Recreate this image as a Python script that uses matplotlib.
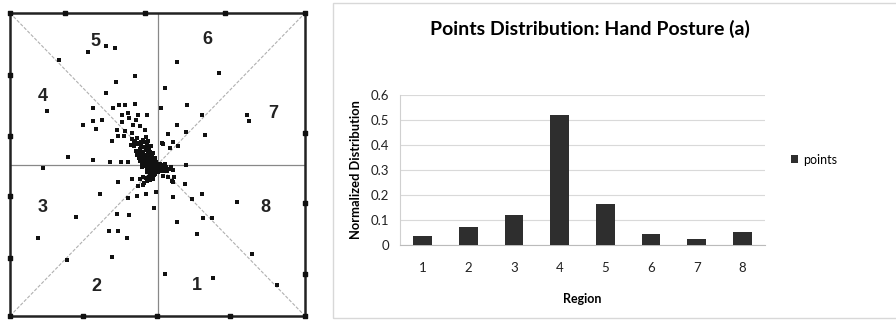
import numpy as np
import matplotlib.pyplot as plt
from matplotlib.patches import Rectangle

plt.rcParams['font.family'] = ['Lato', 'DejaVu Sans']

###############################################################################
# Data: bar chart
regions = ['1', '2', '3', '4', '5', '6', '7', '8']
points_dist = [0.036, 0.071, 0.12, 0.52, 0.164, 0.043, 0.023, 0.052]

###############################################################################
# Data: touch points in the square (0..100 units)
pts_x = [26.6, 32.5, 35.6, 16.7, 42.4, 35.9, 32.5, 28.0, 35.0, 37.1, 39.0, 42.4,
         28.0, 31.1, 24.6, 29.2, 40.1, 37.9, 43.5, 46.3, 41.8, 44.1, 36.2, 39.0,
         36.7, 38.6, 41.2, 45.8, 34.5,
         12.4, 19.8, 28.0, 33.9, 37.5, 40.1,
         11.3, 22.4, 9.6, 30.5, 19.2,
         36.7, 40.1, 43.2, 46.1, 36.4, 40.5, 33.7, 36.7, 39.8, 34.5, 48.8,
         49.5, 52.5, 68.9, 56.5, 63.5, 59.3, 55.1, 61.6, 65.3, 68.4,
         65.0, 76.8, 81.9, 90.4, 55.4,
         80.2, 81.1, 66.1, 59.7, 65.0, 56.5, 53.7, 55.1, 51.8,
         56.5, 70.8, 52.5, 51.2, 60.1, 59.7,
         51.4, 54.2, 57.1, 41.2, 43.5, 38.0, 40.3, 42.6,
         # dense cluster near the centre
         41.5, 42.5, 43.0, 41.0, 42.0, 43.5, 44.5, 45.0, 46.0, 44.0, 45.2, 46.3,
         42.8, 43.9, 45.0, 46.1, 47.0, 44.5, 45.6, 46.7, 47.6, 43.6, 45.0, 46.2,
         47.3, 48.2, 44.8, 46.0, 47.0, 48.0, 49.0, 45.5, 46.6, 47.7, 48.7, 49.6,
         46.4, 47.5, 48.5, 49.5, 50.5, 47.8, 48.8, 49.8, 50.8, 51.8, 52.8, 53.8,
         54.6, 52.2, 53.3, 55.3, 50.3, 51.3,
         45.0, 46.0, 47.0, 48.0, 46.5, 47.6, 45.5, 48.6, 49.2, 44.2, 45.2,
         55.5, 52.0, 53.5, 54.8,
         42.2, 43.3, 44.4, 45.6, 46.8, 47.9, 44.1, 45.3, 46.4, 47.4, 48.5, 49.3,
         43.2, 44.0, 45.8, 47.1, 48.3, 50.9, 51.9, 52.6, 44.6, 46.3, 47.3, 48.9]
pts_y = [87.0, 89.0, 88.5, 84.4, 79.1, 77.1, 73.6, 68.7, 68.7, 69.5, 69.5, 70.1,
         64.3, 64.8, 63.2, 61.8, 67.0, 66.5, 66.2, 66.5, 63.2, 62.6, 61.5, 61.0,
         59.3, 59.3, 60.4, 61.5, 57.7,
         67.6, 52.5, 51.4, 50.8, 50.8, 50.8,
         48.9, 32.7, 25.8, 40.3, 18.5,
         44.2, 39.0, 39.6, 40.1, 33.8, 33.2, 28.0, 28.0, 25.8, 19.6, 35.7,
         40.9, 14.0, 12.6, 31.0, 26.9, 43.4, 39.3, 38.7, 32.4, 32.2,
         40.1, 37.7, 20.3, 10.1, 44.2,
         66.2, 64.3, 59.9, 60.7, 66.2, 63.2, 60.2, 57.4, 56.9,
         83.7, 80.2, 75.3, 68.7, 69.6, 49.7,
         57.1, 55.4, 56.0, 45.1, 42.9, 64.0, 65.2, 64.6,
         58.5, 57.8, 58.9, 56.5, 56.0, 56.8, 57.5, 58.2, 59.0, 55.2, 55.8, 56.5,
         54.5, 53.8, 54.2, 54.9, 55.5, 52.8, 53.2, 53.6, 54.2, 52.0, 51.6, 52.0,
         52.5, 53.0, 50.5, 50.8, 51.2, 51.5, 52.0, 49.6, 49.8, 50.2, 50.5, 50.9,
         48.8, 49.0, 49.3, 49.5, 49.8, 48.0, 48.2, 48.5, 48.7, 49.0, 49.3, 48.6,
         49.2, 48.0, 47.8, 48.2, 47.5, 47.7,
         46.0, 45.4, 45.8, 46.3, 44.6, 44.8, 44.0, 45.2, 47.0, 45.3, 43.2,
         45.8, 46.3, 46.0, 44.5,
         57.2, 57.0, 56.2, 57.3, 57.8, 56.1, 54.0, 53.0, 55.3, 53.0, 53.9, 51.3,
         53.2, 51.0, 51.9, 50.4, 51.8, 50.2, 50.0, 50.2, 49.2, 47.6, 47.2, 46.5]

# dots sitting on the frame of the square
frame_x = [0, 18.6, 45.8, 72.9, 100, 0, 0, 0, 0, 0, 100, 100, 100, 24.9, 49.7, 74.6, 100]
frame_y = [100, 100, 100, 100, 100, 79.7, 59.3, 39.6, 19.2, 0, 60.4, 37.4, 13.8, 0, 0, 0, 0]

# region number labels
label_txt = ['1', '2', '3', '4', '5', '6', '7', '8']
label_x = [63.5, 29.2, 11.1, 11.1, 28.8, 66.9, 89.3, 86.7]
label_y = [10.1, 9.9, 35.7, 72.3, 90.7, 91.2, 66.8, 35.7]

###############################################################################
fig = plt.figure(figsize=(8.96, 3.21), dpi=100)

# Left: the square with regions
ax1 = fig.add_axes([10 / 896, 5 / 321, 295 / 896, 303 / 321])
ax1.set_xlim(0, 100)
ax1.set_ylim(0, 100)
ax1.axis('off')
ax1.plot([0, 100], [0, 100], color='#b0b0b0', lw=0.8, ls=(0, (3, 1.5)))
ax1.plot([0, 100], [100, 0], color='#b0b0b0', lw=0.8, ls=(0, (3, 1.5)))
ax1.plot([50, 50], [0, 100], color='#888888', lw=0.9)
ax1.plot([0, 100], [50, 50], color='#888888', lw=0.9)
ax1.plot([0, 100, 100, 0, 0], [0, 0, 100, 100, 0], color='#222222', lw=1.8,
         clip_on=False)
ax1.scatter(frame_x, frame_y, marker='s', s=12, color='#111111', clip_on=False,
            zorder=4)
ax1.scatter(pts_x, pts_y, marker='s', s=11, color='#111111', linewidths=0,
            zorder=3)
for t, x, y in zip(label_txt, label_x, label_y):
    ax1.text(x, y, t, fontsize=13, fontweight='bold', ha='center', va='center',
             color='#222222', family=['Liberation Sans'])

# Right: chart area frame
fig.patches.append(Rectangle((333 / 896, 3 / 321), 570 / 896, 315 / 321,
                             transform=fig.transFigure, fill=False,
                             edgecolor='#d8d8d8', lw=1.0))

ax2 = fig.add_axes([400 / 896, 76 / 321, 365 / 896, 150 / 321])
xpos = np.arange(len(regions))
ax2.bar(xpos, points_dist, width=0.41, color='#2e2e2e', label='points', zorder=3)
ax2.set_xlim(-0.5, len(regions) - 0.5)
ax2.set_ylim(0, 0.6)
ax2.set_yticks([0, 0.1, 0.2, 0.3, 0.4, 0.5, 0.6])
ax2.set_yticklabels(['0', '0.1', '0.2', '0.3', '0.4', '0.5', '0.6'])
ax2.set_xticks(xpos)
ax2.set_xticklabels(regions)
ax2.grid(axis='y', color='#d9d9d9', lw=0.8, zorder=0)
for s in ['top', 'right']:
    ax2.spines[s].set_visible(False)
ax2.spines['left'].set_color('#d0d0d0')
ax2.spines['bottom'].set_color('#bbbbbb')
ax2.tick_params(axis='both', length=0, labelsize=9.5, colors='#222222')
ax2.tick_params(axis='x', pad=12)
ax2.tick_params(axis='y', pad=8)
ax2.set_xlabel('Region', fontsize=9, fontweight='bold', labelpad=14)
ax2.set_ylabel('Normalized Distribution', fontsize=9.3, fontweight='bold',
               labelpad=6)
fig.text(590 / 896, 1 - 29 / 321, 'Points Distribution: Hand Posture (a)',
         fontsize=14, fontweight='bold', ha='center', va='center')
ax2.legend(loc='center left', bbox_to_anchor=(1.04, 0.57), frameon=False,
           fontsize=9, handlelength=0.6, handleheight=0.6, handletextpad=0.4)

fig.savefig('out.png', dpi=100)
